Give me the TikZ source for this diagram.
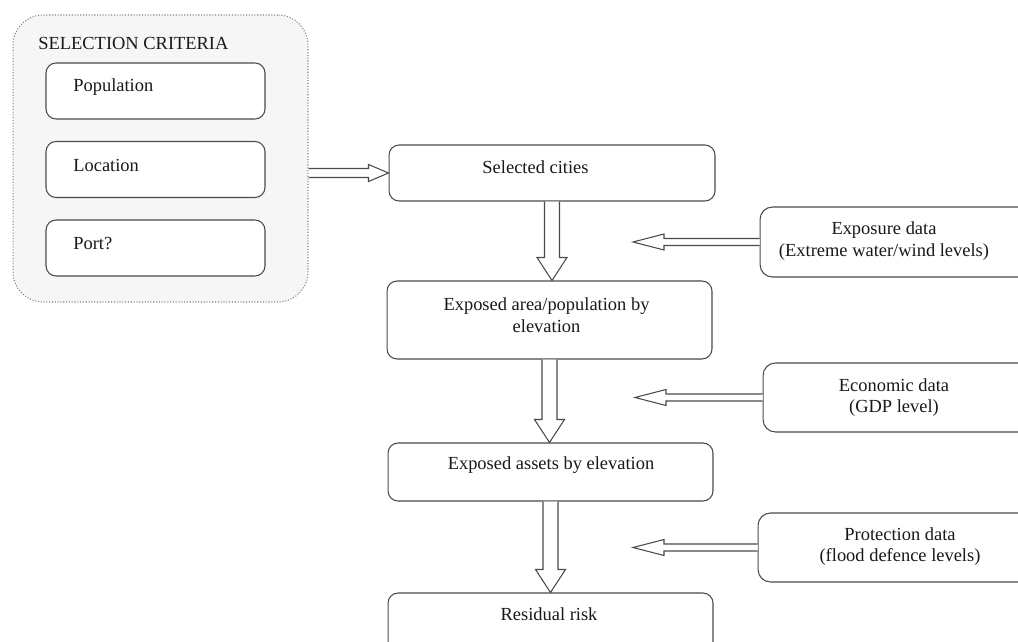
\documentclass[tikz,border=0pt]{standalone}
\usepackage{fontspec}
\setmainfont{Liberation Serif}
\usetikzlibrary{calc}

\definecolor{linegray}{HTML}{4A4A4A}
\definecolor{critfill}{HTML}{F6F6F6}

\tikzset{
  flowbox/.style={draw=linegray, line width=0.6pt, rounded corners=0.2cm, fill=white, inner sep=0pt},
  databox/.style={flowbox, rounded corners=0.25cm},
  flowtext/.style={font=\fontsize{10.5}{12.4}\selectfont, align=center, inner sep=0pt, text=black!90},
  blockline/.style={draw=linegray, line width=0.6pt, fill=white, line join=miter}
}

% freccia larga verso il basso
\newcommand{\blockdown}[2]{%
  \draw[blockline] let \p1=(#1), \p2=(#2) in
    ({\x1-0.15cm},\y1) -- ({\x1-0.15cm},{\y2+0.46cm}) -- ({\x1-0.3cm},{\y2+0.46cm}) -- (\x1,\y2)
    -- ({\x1+0.3cm},{\y2+0.46cm}) -- ({\x1+0.15cm},{\y2+0.46cm}) -- ({\x1+0.15cm},\y1);}

% freccia larga orizzontale: da, a, mezzo fusto, mezza punta, lunghezza punta
\newcommand{\blockh}[5]{%
  \draw[blockline] let \p1=(#1), \p2=(#2) in
    (\x1,{\y1+#3}) -- ({\x2-(#5)},{\y1+#3}) -- ({\x2-(#5)},{\y1+#4}) -- (\x2,\y1)
    -- ({\x2-(#5)},{\y1-#4}) -- ({\x2-(#5)},{\y1-#3}) -- (\x1,{\y1-#3});}

\begin{document}
\begin{tikzpicture}[x=0.02cm, y=-0.02cm]
  \useasboundingbox (0,0) rectangle (1018,642);

  % Riquadro dei criteri
  \node[draw=gray, densely dotted, line width=0.6pt, fill=critfill, rounded corners=0.6cm,
        minimum width=5.9cm, minimum height=5.74cm, inner sep=0pt] (crit) at (160.5,158.5) {};
  \node[flowtext, anchor=west] (crittitle) at (38,43) {SELECTION CRITERIA};

  \foreach \name/\y/\t in {pop/91/Population, loc/169.5/Location, port/248/Port?} {
    \node[flowbox, minimum width=4.38cm, minimum height=1.12cm] (\name) at (155.5,\y) {};
    \node[flowtext, anchor=west] (\name txt) at (73,\y-4) {\t};
  }

  % Catena centrale
  \node[flowbox, minimum width=6.52cm, minimum height=1.12cm] (cities) at (552,173) {};
  \node[flowtext] (citiestxt) at (535.5,167) {Selected cities};

  \node[flowbox, minimum width=6.5cm, minimum height=1.56cm] (area) at (549.5,320) {};
  \node[flowtext] (areatxt) at (546.5,315) {Exposed area/population by\\elevation};

  \node[flowbox, minimum width=6.5cm, minimum height=1.16cm] (assets) at (550.5,472) {};
  \node[flowtext] (assetstxt) at (551,465) {Exposed assets by elevation};

  \node[flowbox, minimum width=6.5cm, minimum height=1.54cm] (risk) at (550.5,631.5) {};
  \node[flowtext] (risktxt) at (549,614) {Residual risk};

  % Dati a destra
  \node[databox, minimum width=5.7cm, minimum height=1.4cm] (expo) at (902.5,242) {};
  \node[flowtext] (expotxt) at (884,241) {Exposure data\\(Extreme water/wind levels)};

  \node[databox, minimum width=5.64cm, minimum height=1.38cm] (econ) at (904,397.5) {};
  \node[flowtext] (econtxt) at (894,397.5) {Economic data\\(GDP level)};

  \node[databox, minimum width=5.74cm, minimum height=1.38cm] (prot) at (901.5,547.5) {};
  \node[flowtext] (prottxt) at (900,546.5) {Protection data\\(flood defence levels)};

  \coordinate (expotip) at (633,242);
  \coordinate (econtip) at (635,397.5);
  \coordinate (prottip) at (633,547.5);

  % Frecce
  \blockh{crit.east |- cities.west}{cities.west}{0.09cm}{0.17cm}{0.4cm}
  \blockdown{cities.south}{area.north}
  \blockdown{area.south}{assets.north}
  \blockdown{assets.south}{risk.north}
  \blockh{expo.west}{expotip}{0.07cm}{0.16cm}{-0.62cm}
  \blockh{econ.west}{econtip}{0.07cm}{0.16cm}{-0.62cm}
  \blockh{prot.west}{prottip}{0.07cm}{0.16cm}{-0.62cm}
\end{tikzpicture}
\end{document}
